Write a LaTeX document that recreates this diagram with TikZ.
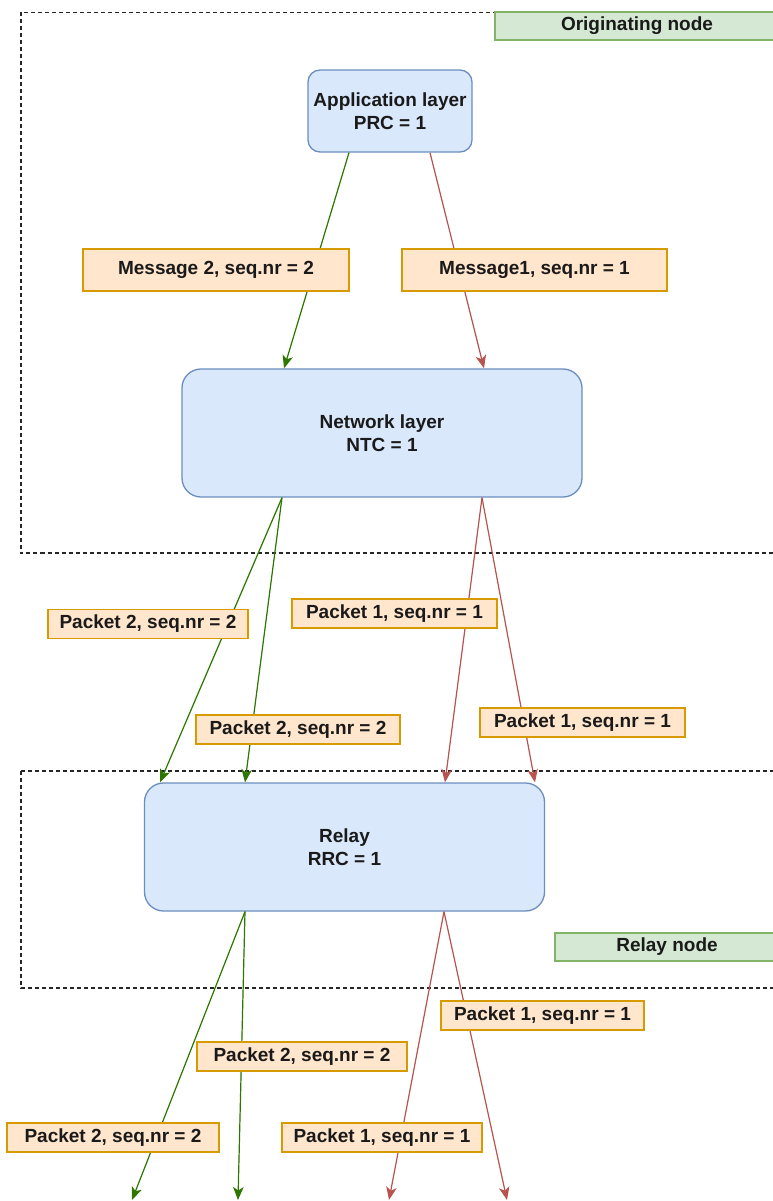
\documentclass[tikz,border=0pt]{standalone}
\usepackage{fontspec}
\setmainfont{Liberation Sans}
\usetikzlibrary{arrows.meta,calc}

\definecolor{layerfill}{HTML}{DAE8FC}
\definecolor{layerline}{HTML}{6C8EBF}
\definecolor{tagfill}{HTML}{FFE6CC}
\definecolor{tagline}{HTML}{D79B00}
\definecolor{zonefill}{HTML}{D5E8D4}
\definecolor{zoneline}{HTML}{82B366}
\definecolor{pkttwo}{HTML}{2D7600}
\definecolor{pktone}{HTML}{B85450}
\definecolor{ink}{HTML}{1A1A1A}

\tikzset{
  basetext/.style={font=\fontsize{19}{23}\selectfont\bfseries, text=ink, align=center, inner sep=0pt},
  layerbox/.style={basetext, draw=layerline, fill=layerfill, line width=1.3pt, rectangle, rounded corners=#1},
  tagbox/.style={basetext, draw=tagline, fill=tagfill, line width=1.3pt, rectangle},
  zonetag/.style={basetext, draw=zoneline, fill=zonefill, line width=1.3pt, rectangle},
  zoneframe/.style={draw=black!85, line width=1.1pt, dash pattern=on 4pt off 3pt},
  flow/.style={line width=1.2pt, -{Stealth[length=13pt,width=10.5pt,inset=3.5pt]}},
  flowtwo/.style={flow, draw=pkttwo, fill=pkttwo},
  flowone/.style={flow, draw=pktone, fill=pktone}
}

\begin{document}
\begin{tikzpicture}[x=1pt,y=-1pt]
  \useasboundingbox (0,0) rectangle (773,1201);
  \clip (0,0) rectangle (773,1201);

  % node frames
  \draw[zoneframe] (21,12.5) rectangle (800,553);
  \draw[zoneframe] (21,771) rectangle (800,988);

  % stack layers
  \node[layerbox=12pt, minimum width=164pt, minimum height=82pt] (app) at (390,111) {Application layer\\PRC = 1};
  \node[layerbox=19pt, minimum width=400pt, minimum height=128pt] (net) at (382,433) {Network layer\\NTC = 1};
  \node[layerbox=19pt, minimum width=400pt, minimum height=128pt] (relay) at (344.5,847) {Relay\\RRC = 1};

  % free ends leaving the relay
  \coordinate (o1) at (132,1200);
  \coordinate (o2) at (238,1200);
  \coordinate (o3) at (389,1200);
  \coordinate (o4) at (507,1200);

  % application -> network
  \draw[flowtwo] ([xshift=-41pt]app.south) -- ([xshift=-98pt]net.north);
  \draw[flowone] ([xshift=40pt]app.south) -- ([xshift=102pt]net.north);

  % network -> relay
  \draw[flowtwo] ([xshift=-100pt]net.south) -- ([xshift=-184.5pt]relay.north);
  \draw[flowtwo] ([xshift=-100pt]net.south) -- ([xshift=-99.5pt]relay.north);
  \draw[flowone] ([xshift=100pt]net.south) -- ([xshift=100.5pt]relay.north);
  \draw[flowone] ([xshift=100pt]net.south) -- ([xshift=190.5pt]relay.north);

  % relay -> onward
  \draw[flowtwo] ([xshift=-99.5pt]relay.south) -- (o1);
  \draw[flowtwo] ([xshift=-99.5pt]relay.south) -- (o2);
  \draw[flowone] ([xshift=99.5pt]relay.south) -- (o3);
  \draw[flowone] ([xshift=99.5pt]relay.south) -- (o4);

  % zone captions
  \node[zonetag, minimum width=284pt, minimum height=28pt] (orig) at (637,26) {Originating node};
  \node[zonetag, minimum width=224pt, minimum height=28pt] (relaytag) at (667,947) {Relay node};

  % message tags
  \node[tagbox, minimum width=266pt, minimum height=42pt] (m2) at (216,270) {Message 2, seq.nr = 2};
  \node[tagbox, minimum width=265pt, minimum height=42pt] (m1) at (534.5,270) {Message1, seq.nr = 1};

  % packet tags between network and relay
  \node[tagbox, minimum width=200pt, minimum height=29pt] (p2a) at (148,624) {Packet 2, seq.nr = 2};
  \node[tagbox, minimum width=205pt, minimum height=29pt] (p1a) at (394.5,613.5) {Packet 1, seq.nr = 1};
  \node[tagbox, minimum width=204pt, minimum height=29pt] (p2b) at (298,729.5) {Packet 2, seq.nr = 2};
  \node[tagbox, minimum width=205pt, minimum height=29pt] (p1b) at (582.5,722.5) {Packet 1, seq.nr = 1};

  % packet tags below the relay
  \node[tagbox, minimum width=203pt, minimum height=29pt] (p1c) at (542.5,1015.5) {Packet 1, seq.nr = 1};
  \node[tagbox, minimum width=210pt, minimum height=29pt] (p2c) at (302,1056.5) {Packet 2, seq.nr = 2};
  \node[tagbox, minimum width=212pt, minimum height=29pt] (p2d) at (113,1137.5) {Packet 2, seq.nr = 2};
  \node[tagbox, minimum width=200pt, minimum height=29pt] (p1d) at (382,1137.5) {Packet 1, seq.nr = 1};
\end{tikzpicture}
\end{document}
